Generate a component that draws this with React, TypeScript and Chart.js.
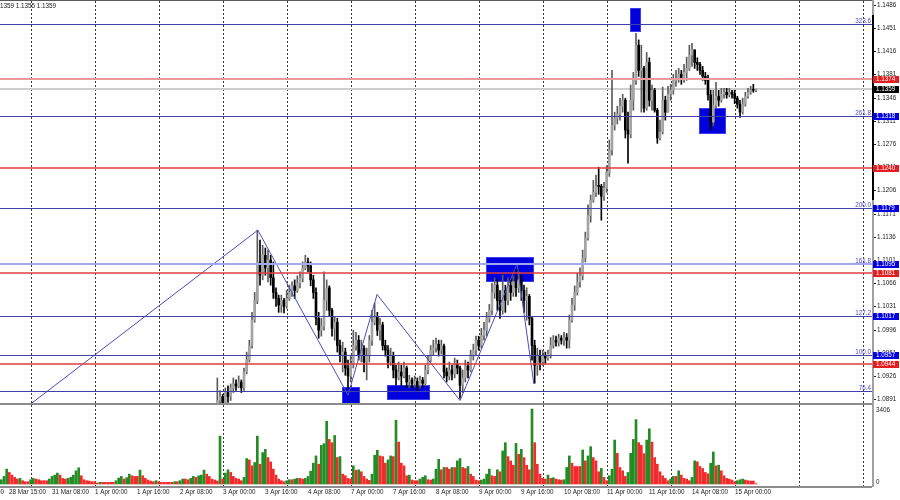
import React, { useEffect, useRef } from "react";
import { Chart, registerables } from "chart.js";

Chart.register(...registerables);

// ---------- data ----------
const SLOT_COUNT = 327; // hourly slots across the plot width
const FIRST_PRICE_BAR = 81; // first bar whose price is inside the visible range
const FIRST_OPEN = 10874; // open of that bar, in 1/10000

// prices in 1/10000 (bars 81 .. 283)
const closes = [
  10889, 10895, 10886, 10901, 10895, 10908, 10914, 10911, 10917, 10908,
  10932, 10950, 10972, 11010, 11040, 11098, 11078, 11108, 11089, 11101,
  11074, 11052, 11043, 11033, 11040, 11031, 11043, 11052, 11062, 11055,
  11066, 11074, 11089, 11098, 11092, 11071, 11052, 11013, 10995, 11001,
  11040, 11059, 11025, 10998, 11007, 10972, 10957, 10962, 10938, 10926,
  10944, 10972, 10980, 10957, 10968, 10947, 10957, 10980, 11007, 11016,
  10995, 11003, 10972, 10965, 10947, 10957, 10935, 10923, 10932, 10926,
  10938, 10917, 10920, 10914, 10918, 10912, 10920, 10915, 10935, 10950,
  10965, 10968, 10974, 10965, 10971, 10932, 10926, 10935, 10929, 10944,
  10938, 10912, 10923, 10941, 10935, 10956, 10965, 10980, 10972, 10987,
  10995, 11013, 11025, 11052, 11063, 11040, 11025, 11055, 11040, 11063,
  11052, 11068, 11059, 11071, 11055, 11040, 11046, 11013, 10972, 10942,
  10957, 10947, 10956, 10953, 10959, 10972, 10980, 10977, 10983, 10980,
  10984, 10980, 11010, 11033, 11052, 11068, 11077, 11104, 11134, 11168,
  11191, 11203, 11212, 11212, 11197, 11209, 11233, 11267, 11304, 11315,
  11321, 11333, 11342, 11297, 11291, 11342, 11372, 11425, 11387, 11390,
  11330, 11399, 11342, 11357, 11327, 11285, 11294, 11342, 11324, 11351,
  11357, 11372, 11375, 11381, 11375, 11384, 11390, 11410, 11418, 11399,
  11396, 11387, 11378, 11372, 11350, 11309, 11334, 11348, 11342, 11351,
  11354, 11350, 11354, 11351, 11345, 11336, 11324, 11336, 11348, 11354,
  11357, 11357, 11359,
];
const highs = [
  10923, 10904, 10898, 10908, 10911, 10914, 10923, 10920, 10926, 10920,
  10938, 10962, 10980, 11022, 11052, 11146, 11131, 11123, 11119, 11116,
  11108, 11098, 11059, 11048, 11048, 11043, 11055, 11063, 11068, 11071,
  11077, 11083, 11098, 11108, 11104, 11098, 11078, 11059, 11022, 11013,
  11083, 11071, 11062, 11028, 11016, 11013, 10980, 10977, 10968, 10950,
  10957, 10995, 10992, 10987, 10980, 10972, 10968, 10987, 11025, 11036,
  11022, 11013, 11007, 10980, 10972, 10968, 10962, 10942, 10947, 10942,
  10947, 10941, 10927, 10923, 10926, 10923, 10926, 10924, 10942, 10956,
  10972, 10980, 10983, 10980, 10980, 10974, 10938, 10947, 10942, 10953,
  10950, 10941, 10935, 10950, 10947, 10965, 10974, 10986, 10986, 10998,
  11007, 11022, 11034, 11066, 11074, 11071, 11055, 11078, 11063, 11074,
  11071, 11077, 11086, 11083, 11078, 11063, 11059, 11049, 11016, 10980,
  10968, 10965, 10965, 10962, 10965, 10984, 10987, 10986, 10989, 10987,
  10992, 10990, 11018, 11043, 11062, 11081, 11089, 11116, 11143, 11184,
  11199, 11221, 11229, 11241, 11215, 11218, 11243, 11282, 11387, 11324,
  11333, 11345, 11351, 11345, 11324, 11365, 11384, 11443, 11433, 11425,
  11393, 11414, 11406, 11365, 11360, 11330, 11312, 11362, 11348, 11363,
  11366, 11381, 11387, 11390, 11387, 11396, 11407, 11425, 11428, 11418,
  11406, 11399, 11393, 11384, 11380, 11357, 11357, 11369, 11357, 11360,
  11360, 11360, 11360, 11357, 11357, 11348, 11342, 11345, 11354, 11360,
  11363, 11366, 11359,
];
const lows = [
  10874, 10880, 10877, 10883, 10886, 10889, 10901, 10904, 10908, 10901,
  10904, 10929, 10947, 10968, 11007, 11035, 11063, 11071, 11078, 11068,
  11063, 11043, 11031, 11022, 11022, 11021, 11028, 11040, 11046, 11043,
  11052, 11059, 11068, 11086, 11083, 11062, 11043, 11003, 10983, 10986,
  10995, 11025, 11016, 10986, 10980, 10962, 10947, 10932, 10927, 10908,
  10917, 10938, 10965, 10950, 10947, 10932, 10920, 10947, 10972, 11003,
  10987, 10980, 10965, 10956, 10938, 10942, 10923, 10912, 10920, 10911,
  10923, 10909, 10908, 10908, 10909, 10904, 10908, 10909, 10911, 10929,
  10947, 10957, 10962, 10956, 10959, 10923, 10917, 10920, 10920, 10923,
  10929, 10892, 10901, 10917, 10923, 10932, 10950, 10957, 10965, 10968,
  10980, 10986, 11007, 11018, 11043, 11025, 11013, 11019, 11022, 11033,
  11040, 11046, 11046, 11052, 11040, 11022, 11010, 11003, 10950, 10915,
  10927, 10935, 10942, 10944, 10950, 10953, 10968, 10971, 10971, 10974,
  10972, 10968, 10968, 11007, 11025, 11048, 11060, 11071, 11098, 11131,
  11158, 11188, 11197, 11200, 11161, 11191, 11203, 11227, 11259, 11297,
  11306, 11312, 11324, 11285, 11247, 11285, 11327, 11366, 11378, 11324,
  11324, 11327, 11333, 11327, 11324, 11277, 11282, 11291, 11312, 11324,
  11342, 11351, 11363, 11369, 11366, 11369, 11372, 11387, 11393, 11390,
  11387, 11381, 11372, 11366, 11342, 11297, 11303, 11330, 11333, 11339,
  11345, 11345, 11347, 11345, 11337, 11330, 11316, 11321, 11333, 11345,
  11351, 11354, 11355,
];

// tick volume, bars 0 .. 283
const volumes = [
  195, 345,
  675, 525, 405, 300, 225, 255, 150, 105, 105, 195,
  255, 225, 195, 150, 150, 150, 225, 345, 405, 495,
  405, 255, 225, 255, 300, 405, 600, 735, 375, 195,
  150, 135, 105, 105, 45, 75, 75, 75, 75, 75,
  75, 150, 270, 345, 225, 285, 450, 375, 345, 345,
  630, 375, 255, 180, 135, 105, 150, 105, 75, 75,
  75, 75, 75, 105, 105, 150, 225, 225, 195, 255,
  345, 300, 375, 405, 630, 450, 345, 225, 180, 135,
  2175, 225, 495, 645, 525, 345, 255, 225, 150, 300,
  1155, 1095, 825, 975, 2175, 900, 1425, 1575, 1200, 1005,
  675, 405, 225, 150, 105, 150, 195, 195, 225, 255,
  255, 225, 255, 345, 585, 945, 1275, 900, 1755, 1830,
  2850, 2025, 1875, 2205, 1200, 1245, 450, 375, 255, 225,
  825, 630, 645, 555, 345, 225, 165, 450, 1305, 1530,
  1275, 1245, 945, 1095, 1275, 1245, 2895, 1905, 945, 825,
  375, 405, 180, 150, 150, 225, 300, 375, 195, 180,
  225, 675, 1125, 645, 750, 750, 675,
  750, 750, 1050, 1155, 750, 705, 795, 450, 345, 180,
  150, 180, 225, 450, 675, 375, 345, 645, 555, 1500,
  1875, 1245, 1050, 855, 1845, 1350, 1575, 1200, 855, 645,
  3405, 1875, 900, 450, 255, 225, 405, 255, 285, 225,
  195, 180, 195, 750, 1275, 945, 795, 795, 795, 1545,
  1050, 1275, 1695, 1200, 1050, 555, 705, 300, 150, 375,
  675, 1995, 1395, 750, 600, 345, 525, 1395, 2025, 2925,
  1875, 1755, 1380, 1995, 2505, 1905, 1200, 900, 555, 375,
  255, 150, 225, 345, 345, 600, 405, 255, 225, 150,
  300, 1050, 1005, 795, 705, 525, 465, 945, 1455, 825,
  855, 600, 375, 255, 225, 180, 105, 150, 195, 225,
  180, 150, 135, 135, 15,
];

const timeLabelBars = [-13, 3, 19, 35, 51, 67, 83, 99, 115, 131, 147, 163, 179, 195, 211, 227, 243, 259, 275];
const timeLabels = [
  "27 Mar 23:00", "28 Mar 15:00", "31 Mar 08:00", "1 Apr 00:00", "1 Apr 16:00", "2 Apr 08:00",
  "3 Apr 00:00", "3 Apr 16:00", "4 Apr 08:00", "7 Apr 00:00", "7 Apr 16:00", "8 Apr 08:00",
  "9 Apr 00:00", "9 Apr 16:00", "10 Apr 08:00", "11 Apr 00:00", "11 Apr 16:00", "14 Apr 08:00",
  "15 Apr 00:00",
];
const dayGridBars = [11, 35, 59, 83, 107, 131, 155, 179, 203, 227, 251, 275, 299, 323];

const priceTicks = [
  1.1486, 1.1451, 1.1416, 1.1381, 1.1346, 1.1311, 1.1276, 1.1241, 1.1206,
  1.1171, 1.1136, 1.1101, 1.1066, 1.1031, 1.0996, 1.0961, 1.0926, 1.0891,
];
const volumeTicks = [3406, 0];

const fibNames = ["323.6", "261.8", "200.0", "161.8", "127.2", "100.0", "76.4"];
const fibPrices = [1.1457, 1.1318, 1.1179, 1.1095, 1.1017, 1.0957, 1.0903];
const fibTagged = [false, true, true, true, true, true, false];
const highlightLevel = 1.1095;
const redLevels = [1.1374, 1.124, 1.1081, 1.0944];
const bidPrice = 1.1359;
const headerText = "1.1359 1.1355 1.1359";

// zigzag (bar index, price)
const zigBars = [10.75, 96.2, 130, 140.9, 172, 193.4, 199.7];
const zigPrices = [1.0883, 1.1146, 1.0897, 1.1049, 1.0889, 1.1095, 1.0914];

// rectangles (bar from, bar to, price top, price bottom)
const zoneFrom = [235.7, 261.6, 181.7, 127.7, 144.6];
const zoneTo = [239.9, 271.7, 199.7, 134.5, 160.7];
const zoneTop = [1.1481, 1.133, 1.1106, 1.0909, 1.0912];
const zoneBottom = [1.1445, 1.1291, 1.1068, 1.088, 1.089];

// ---------- styles ----------
const FONT = "6.3px 'Liberation Sans', Arial, sans-serif";
const redColors = ["#ec9a9a", "#e03c3c", "#e03c3c", "#e03c3c"];
const redWidths = [2, 1.5, 1.5, 1.5];

const overlayPlugin = {
  id: "mtOverlay",
  beforeDatasetsDraw(chart: any) {
    const { ctx, chartArea, scales } = chart;
    const xs = scales.x;
    const ys = scales.y;
    ctx.save();
    // day separators
    ctx.strokeStyle = "#3a3a3a";
    ctx.lineWidth = 1;
    ctx.setLineDash([2, 2]);
    for (const b of dayGridBars) {
      const px = Math.round(xs.getPixelForValue(b)) + 0.5;
      ctx.beginPath();
      ctx.moveTo(px, chartArea.top);
      ctx.lineTo(px, chartArea.bottom);
      ctx.stroke();
    }
    ctx.setLineDash([]);
    // bid line (background)
    const by = Math.round(ys.getPixelForValue(bidPrice));
    ctx.strokeStyle = "#cfcfcf";
    ctx.lineWidth = 2;
    ctx.beginPath();
    ctx.moveTo(0, by);
    ctx.lineTo(chartArea.right, by);
    ctx.stroke();
    // zones
    ctx.beginPath();
    ctx.rect(xs.left, ys.top, xs.right - xs.left, ys.bottom - ys.top);
    ctx.clip();
    for (let k = 0; k < zoneFrom.length; k++) {
      const x0 = Math.round(xs.getPixelForValue(zoneFrom[k]));
      const x1 = Math.round(xs.getPixelForValue(zoneTo[k]));
      const y0 = Math.round(ys.getPixelForValue(zoneTop[k]));
      const y1 = Math.round(ys.getPixelForValue(zoneBottom[k]));
      ctx.fillStyle = "#0000dc";
      ctx.fillRect(x0, y0, x1 - x0, y1 - y0);
      ctx.strokeStyle = "#3c3cf0";
      ctx.lineWidth = 1;
      ctx.strokeRect(x0 + 0.5, y0 + 0.5, x1 - x0 - 1, y1 - y0 - 1);
    }
    ctx.restore();
  },
  afterDatasetsDraw(chart: any) {
    const { ctx, chartArea, scales } = chart;
    const xs = scales.x;
    const ys = scales.y;
    const yv = scales.yv;
    const W = chartArea.right;
    const yPix = (p: number) => ys.getPixelForValue(p);
    ctx.save();

    const hline = (p: number, color: string, width: number) => {
      const yy = yPix(p);
      const yr = width === 1 ? Math.round(yy) + 0.5 : Math.round(yy);
      ctx.strokeStyle = color;
      ctx.lineWidth = width;
      ctx.beginPath();
      ctx.moveTo(0, yr);
      ctx.lineTo(W, yr);
      ctx.stroke();
    };
    fibPrices.forEach((p) => hline(p, "#4040a8", 1));
    hline(highlightLevel, "#a3a7ef", 2);
    redLevels.forEach((p, k) => hline(p, redColors[k], redWidths[k]));

    ctx.font = FONT;
    ctx.fillStyle = "#4a4ac4";
    ctx.textAlign = "right";
    ctx.textBaseline = "alphabetic";
    fibPrices.forEach((p, k) => ctx.fillText(fibNames[k], W - 1, Math.round(yPix(p)) - 1));

    // frame
    ctx.fillStyle = "#5a5a5a";
    ctx.fillRect(0, 0, W, 1);
    ctx.fillStyle = "#8c8c8c";
    ctx.fillRect(0, Math.round(ys.bottom) - 1, W, 2);
    ctx.fillRect(0, Math.round(chartArea.bottom) - 1, W, 2);
    ctx.fillStyle = "#a0a0a0";
    ctx.fillRect(W, 0, 2, chartArea.bottom);
    ctx.fillStyle = "#000000";
    ctx.fillRect(W, 15, 2, 185);

    // price axis labels
    ctx.font = FONT;
    ctx.textAlign = "left";
    ctx.textBaseline = "middle";
    priceTicks.forEach((v) => {
      const yy = Math.round(yPix(v));
      ctx.fillStyle = "#222";
      ctx.fillRect(874, yy, 2, 1);
      ctx.fillText(v.toFixed(4), 877, yy + 0.5);
    });

    // price tags
    const tag = (p: number, bg: string) => {
      const yy = Math.round(yPix(p));
      ctx.fillStyle = bg;
      ctx.fillRect(873, yy - 3, 26, 7);
      ctx.fillStyle = "#ffffff";
      ctx.fillText(p.toFixed(4), 876, yy + 0.5);
    };
    fibPrices.forEach((p, k) => {
      if (fibTagged[k]) tag(p, "#0000e0");
    });
    redLevels.forEach((p) => tag(p, "#e41e1e"));
    tag(bidPrice, "#000000");

    // volume labels
    ctx.fillStyle = "#222";
    ctx.fillText(String(volumeTicks[0]), 876, Math.round(yv.getPixelForValue(volumeTicks[0])) + 1);
    ctx.fillText(String(volumeTicks[1]), 876, Math.round(yv.getPixelForValue(volumeTicks[1])) - 2);

    // time labels
    timeLabelBars.forEach((b, k) => {
      ctx.fillText(timeLabels[k], Math.round(xs.getPixelForValue(b)), 492.5);
    });

    // header
    const dx = ctx.measureText("1.").width;
    ctx.fillText(headerText, -dx, 6.5);
    ctx.restore();
  },
};

export default function App() {
  const ref = useRef<HTMLCanvasElement | null>(null);

  useEffect(() => {
    const canvas = ref.current;
    if (!canvas) return;
    const P = (v: number) => v / 10000;
    const bars = closes.map((_, k) => FIRST_PRICE_BAR + k);
    const opens = closes.map((_, k) => (k === 0 ? FIRST_OPEN : closes[k - 1]));
    const bull = closes.map((c, k) => c > opens[k]);
    const volColors = volumes.map((v, i) => (i === 0 || v > volumes[i - 1] ? "#238c23" : "#f22c2c"));

    const chart = new Chart(canvas, {
      type: "bar",
      data: {
        datasets: [
          {
            type: "line",
            label: "zigzag",
            data: zigBars.map((b, k) => ({ x: b, y: zigPrices[k] })),
            yAxisID: "y",
            borderColor: "#4b4bbf",
            borderWidth: 1,
            pointRadius: 0,
            tension: 0,
            order: 0,
          } as any,
          {
            label: "body",
            data: bars.map((b, k) => ({ x: b, y: [P(opens[k]), P(closes[k])] })),
            yAxisID: "y",
            backgroundColor: bull.map((u) => (u ? "#a4a4a4" : "#000000")),
            barThickness: 2,
            minBarLength: 1,
            grouped: false,
            clip: 0,
            order: 1,
          } as any,
          {
            label: "wick",
            data: bars.map((b, k) => ({ x: b, y: [P(lows[k]), P(highs[k])] })),
            yAxisID: "y",
            backgroundColor: bull.map((u) => (u ? "#5c5c5c" : "#000000")),
            barThickness: 1,
            grouped: false,
            clip: 0,
            order: 2,
          } as any,
          {
            label: "volume",
            data: volumes.map((v, i) => ({ x: i, y: v })),
            yAxisID: "yv",
            backgroundColor: volColors,
            barThickness: 2,
            grouped: false,
            clip: 0,
            order: 3,
          } as any,
        ],
      },
      options: {
        responsive: false,
        animation: false,
        devicePixelRatio: 1,
        events: [],
        layout: { padding: { top: 1, bottom: 13, left: 0, right: 0 } },
        plugins: { legend: { display: false }, tooltip: { enabled: false } },
        scales: {
          x: {
            type: "linear",
            min: -0.5,
            max: SLOT_COUNT - 0.5,
            bounds: "data",
            display: false,
            offset: false,
          },
          y: {
            type: "linear",
            position: "right",
            min: 1.08837,
            max: 1.14917,
            bounds: "data",
            stack: "panes",
            stackWeight: 403,
            weight: 1,
            ticks: { display: false },
            grid: { display: false },
            border: { display: false },
            afterFit: (s: any) => {
              s.width = 28;
            },
          },
          yv: {
            type: "linear",
            position: "right",
            min: -136,
            max: 3633,
            bounds: "data",
            stack: "panes",
            stackWeight: 83,
            weight: 2,
            ticks: { display: false },
            grid: { display: false },
            border: { display: false },
            afterFit: (s: any) => {
              s.width = 28;
            },
          },
        } as any,
      },
      plugins: [overlayPlugin],
    } as any);
    return () => chart.destroy();
  }, []);

  return (
    <div style={{ position: "fixed", left: 0, top: 0, width: 900, height: 500, background: "#ffffff" }}>
      <canvas ref={ref} width={900} height={500} style={{ display: "block", width: 900, height: 500 }} />
    </div>
  );
}
